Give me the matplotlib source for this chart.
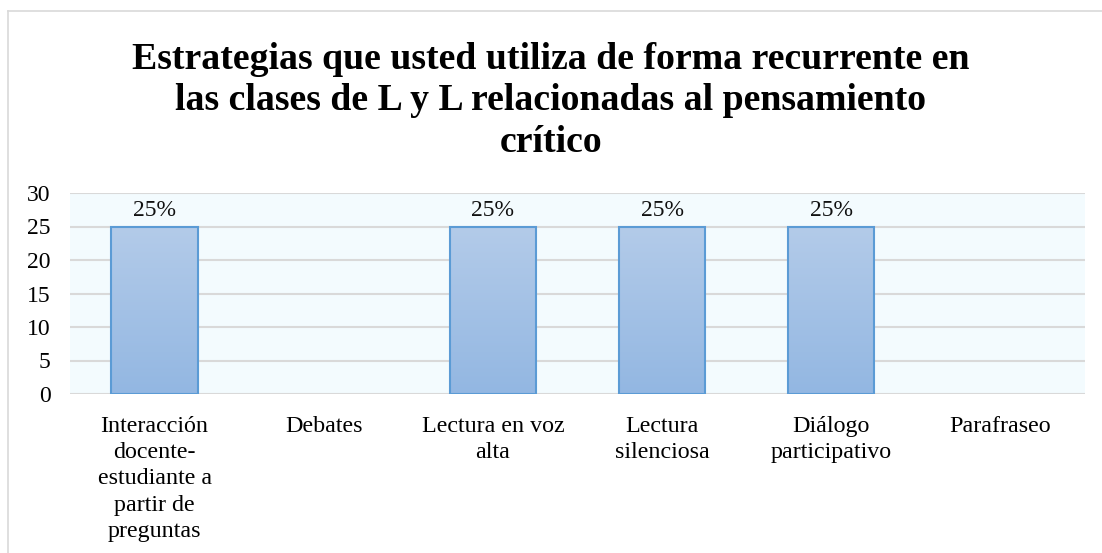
import numpy as np
import matplotlib
matplotlib.use("Agg")
import matplotlib.pyplot as plt
from matplotlib.lines import Line2D

categories = [
    "Interacción\ndocente-\nestudiante a\npartir de\npreguntas",
    "Debates",
    "Lectura en voz\nalta",
    "Lectura\nsilenciosa",
    "Diálogo\nparticipativo",
    "Parafraseo",
]
values = [25, 0, 25, 25, 25, 0]
labels = ["25%", "", "25%", "25%", "25%", ""]
yticks = [0, 5, 10, 15, 20, 25, 30]

title = ("Estrategias que usted utiliza de forma recurrente en\n"
         "las clases de L y L relacionadas al pensamiento\ncrítico")

plt.rcParams["font.family"] = ["Liberation Serif", "DejaVu Serif"]

W, H = 1102, 553
fig = plt.figure(figsize=(W / 100, H / 100), dpi=100)
ax = fig.add_axes([70 / W, 1 - 394 / H, (1085 - 70) / W, (394 - 193) / H])
ax.set_facecolor("#F3FBFE")

x = np.arange(len(categories))
edge = ["#5B9BD5" if v > 0 else "none" for v in values]
bars = ax.bar(x, values, width=0.51, color="none", edgecolor=edge,
              linewidth=1.5, zorder=3)

# vertical gradient fill for each bar
grad = np.linspace(0, 1, 100).reshape(-1, 1)
cmap = matplotlib.colors.LinearSegmentedColormap.from_list(
    "g", ["#93B7E2", "#B3CBE9"])
for b in bars:
    if b.get_height() == 0:
        continue
    x0, w, h = b.get_x(), b.get_width(), b.get_height()
    ax.imshow(grad, extent=[x0, x0 + w, 0, h], origin="lower",
              cmap=cmap, aspect="auto", zorder=2)

ax.bar_label(bars, labels=labels, padding=4, fontsize=17, color="#111111")

ax.set_xlim(-0.5, len(categories) - 0.5)
ax.set_ylim(0, 30)
ax.set_yticks(yticks)
ax.set_xticks(x)
ax.set_xticklabels(categories, fontsize=17.3, linespacing=1.32)
ax.tick_params(axis="y", labelsize=17, length=0, pad=14)
ax.tick_params(axis="x", length=0, pad=16)
ax.grid(axis="y", color="#D9D9D9", linewidth=1.5, zorder=1)
ax.set_axisbelow(True)
for s in ax.spines.values():
    s.set_visible(False)

fig.text(0.5, 1 - 101 / H, title, ha="center", va="center", fontsize=27.2,
         fontweight="bold", linespacing=1.25)

# chart frame
fig.add_artist(Line2D([8 / W, 8 / W], [0, 1 - 11 / H], color="#D9D9D9",
                      linewidth=1.2, transform=fig.transFigure))
fig.add_artist(Line2D([8 / W, 1], [1 - 11 / H, 1 - 11 / H], color="#D9D9D9",
                      linewidth=1.2, transform=fig.transFigure))

fig.savefig("out.png", dpi=100)
